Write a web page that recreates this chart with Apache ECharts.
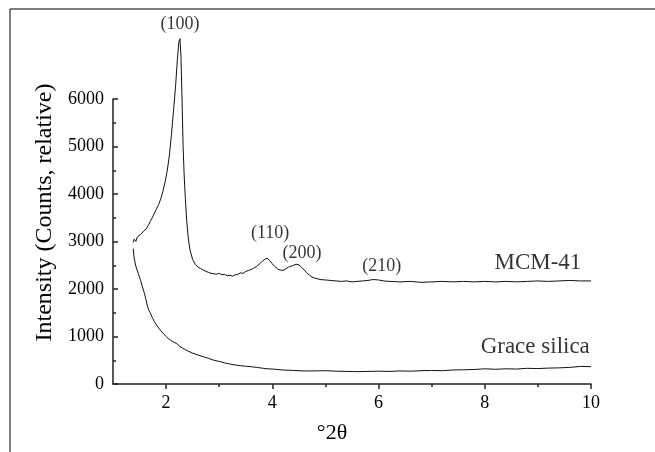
<!DOCTYPE html>
<html>
<head>
<meta charset="utf-8">
<script src="https://cdn.jsdelivr.net/npm/echarts@6/dist/echarts.min.js"></script>
<style>
  html, body { margin: 0; padding: 0; background: #fff; }
  #main { width: 655px; height: 452px; }
</style>
</head>
<body>
<div id="main"></div>
<script>
// two theta values and intensities
var mcmX = [1.38, 1.40, 1.43, 1.46, 1.49, 1.52, 1.55, 1.58, 1.62, 1.66, 1.70, 1.74, 1.78, 1.82, 1.86, 1.90, 1.94, 1.98, 2.02, 2.06,
  2.10, 2.14, 2.18, 2.21, 2.24, 2.26, 2.28, 2.30, 2.32, 2.34, 2.36, 2.39, 2.42, 2.45, 2.50, 2.55, 2.60, 2.65, 2.70, 2.75,
  2.80, 2.85, 2.90, 2.95, 3.00, 3.05, 3.10, 3.15, 3.20, 3.25, 3.30, 3.35, 3.40, 3.45, 3.50, 3.55, 3.60, 3.65, 3.70, 3.75,
  3.80, 3.85, 3.90, 3.95, 4.00, 4.05, 4.10, 4.15, 4.20, 4.25, 4.30, 4.35, 4.40, 4.45, 4.50, 4.55, 4.60, 4.65, 4.70, 4.75,
  4.80, 4.90, 5.00, 5.10, 5.20, 5.30, 5.40, 5.50, 5.60, 5.70, 5.80, 5.90, 6.00, 6.10, 6.20, 6.40, 6.60, 6.80, 7.00, 7.20,
  7.40, 7.60, 7.80, 8.00, 8.20, 8.40, 8.60, 8.80, 9.00, 9.20, 9.40, 9.60, 9.80, 10.00];
var mcmY = [2980, 3050, 3000, 3100, 3060, 3150, 3120, 3220, 3260, 3330, 3420, 3500, 3600, 3690, 3780, 3900, 4060, 4250, 4480, 4800,
  5250, 5750, 6300, 6800, 7200, 7270, 6900, 6000, 5000, 4400, 3950, 3400, 3050, 2820, 2620, 2520, 2460, 2430, 2400, 2370,
  2350, 2330, 2320, 2310, 2330, 2300, 2310, 2280, 2290, 2270, 2300, 2310, 2340, 2330, 2370, 2390, 2410, 2440, 2470, 2520,
  2570, 2620, 2650, 2600, 2530, 2470, 2420, 2400, 2390, 2420, 2460, 2480, 2500, 2520, 2510, 2460, 2400, 2340, 2290, 2250,
  2230, 2200, 2190, 2180, 2170, 2160, 2170, 2150, 2160, 2170, 2180, 2200, 2190, 2170, 2160, 2150, 2160, 2140, 2150, 2160,
  2150, 2160, 2150, 2160, 2150, 2160, 2150, 2160, 2170, 2160, 2170, 2180, 2170, 2170];

var graceX = [1.38, 1.40, 1.43, 1.46, 1.49, 1.52, 1.55, 1.58, 1.61, 1.64, 1.67, 1.70, 1.74, 1.78, 1.82, 1.86, 1.90, 1.95, 2.00, 2.05,
  2.10, 2.15, 2.20, 2.25, 2.30, 2.35, 2.40, 2.50, 2.60, 2.70, 2.80, 2.90, 3.00, 3.10, 3.20, 3.30, 3.40, 3.50, 3.60, 3.70,
  3.80, 3.90, 4.00, 4.20, 4.40, 4.60, 4.80, 5.00, 5.20, 5.40, 5.60, 5.80, 6.00, 6.20, 6.40, 6.60, 6.80, 7.00, 7.20, 7.40,
  7.60, 7.80, 8.00, 8.20, 8.40, 8.60, 8.80, 9.00, 9.20, 9.40, 9.60, 9.80, 10.00];
var graceY = [2850, 2640, 2480, 2380, 2280, 2180, 2060, 1950, 1830, 1680, 1560, 1500, 1400, 1310, 1240, 1180, 1120, 1060, 1000, 950,
  910, 880, 850, 800, 760, 730, 700, 650, 610, 575, 540, 500, 475, 445, 420, 400, 385, 375, 365, 350,
  335, 320, 315, 295, 285, 275, 275, 280, 270, 265, 260, 265, 270, 265, 275, 270, 280, 285, 280, 295,
  300, 305, 320, 310, 320, 315, 330, 325, 335, 340, 350, 370, 365];

var peakNames = ['(100)', '(110)', '(200)', '(210)'];
var peakX = [2.26, 3.96, 4.56, 6.06];
var peakY = [7570, 3175, 2760, 2470];

var seriesNames = ['MCM-41', 'Grace silica'];
var nameX = [9.0, 8.95];
var nameY = [2545, 780];

var majorTicks = [2, 4, 6, 8, 10];
var minorTicks = [3, 5, 7, 9];

var serif = '"Liberation Serif", "DejaVu Serif", serif';

function pairs(xs, ys) {
  return xs.map(function (x, i) { return [x, ys[i]]; });
}

function textSeries(names, xs, ys, size) {
  return {
    type: 'scatter',
    clip: false,
    silent: true,
    symbolSize: 0,
    itemStyle: { color: 'transparent' },
    label: { show: true, position: 'inside', formatter: '{b}', fontFamily: serif, fontSize: size, color: '#000' },
    data: names.map(function (n, i) { return { name: n, value: [xs[i], ys[i]] }; })
  };
}

var chart = echarts.init(document.getElementById('main'));

var option = {
  animation: false,
  backgroundColor: '#fff',
  textStyle: { fontFamily: serif, color: '#000' },
  graphic: [
    { type: 'line', shape: { x1: 10, y1: 9, x2: 655, y2: 9 }, style: { stroke: '#555', lineWidth: 1.5 } },
    { type: 'line', shape: { x1: 10, y1: 9, x2: 10, y2: 452 }, style: { stroke: '#555', lineWidth: 1.5 } }
  ],
  grid: { left: 113, right: 64, top: 99, bottom: 68 },
  xAxis: [{
    type: 'value',
    min: 1,
    max: 10,
    name: '°2θ',
    nameLocation: 'middle',
    nameGap: 38,
    nameTextStyle: { fontFamily: serif, fontSize: 22, color: '#000', padding: [0, 40, 0, 0] },
    axisLine: { onZero: false, lineStyle: { color: '#222', width: 1.5 } },
    axisTick: { customValues: majorTicks, length: 5, lineStyle: { color: '#222', width: 1.5 } },
    axisLabel: { customValues: majorTicks, fontFamily: serif, fontSize: 18, color: '#000', margin: 10 },
    splitLine: { show: false }
  }, {
    type: 'value',
    min: 1,
    max: 10,
    position: 'bottom',
    axisLine: { show: false },
    axisTick: { customValues: minorTicks, length: 3, lineStyle: { color: '#222', width: 1.5 } },
    axisLabel: { show: false },
    splitLine: { show: false }
  }],
  yAxis: {
    type: 'value',
    min: 0,
    max: 6000,
    interval: 1000,
    name: 'Intensity (Counts, relative)',
    nameLocation: 'middle',
    nameGap: 44,
    nameTextStyle: { fontFamily: serif, fontSize: 24, color: '#000', padding: [0, 0, 0, 58] },
    axisLine: { show: true, lineStyle: { color: '#222', width: 1.5 } },
    axisTick: { show: true, inside: true, length: 5, lineStyle: { color: '#222', width: 1.5 } },
    minorTick: { show: true, splitNumber: 2, length: 3, lineStyle: { color: '#222', width: 1.5 } },
    axisLabel: {
      fontFamily: serif, fontSize: 18, color: '#000', margin: 9,
      formatter: function (v) { return String(v); }
    },
    splitLine: { show: false }
  },
  series: [{
    name: seriesNames[0],
    type: 'line',
    clip: false,
    showSymbol: false,
    lineStyle: { color: '#111', width: 1 },
    data: pairs(mcmX, mcmY)
  }, {
    name: seriesNames[1],
    type: 'line',
    clip: false,
    showSymbol: false,
    lineStyle: { color: '#111', width: 1 },
    data: pairs(graceX, graceY)
  },
  textSeries(peakNames, peakX, peakY, 18),
  textSeries(seriesNames, nameX, nameY, 23)
  ]
};

chart.setOption(option);
window.addEventListener('resize', function () {
  chart.resize();
});
</script>
</body>
</html>
